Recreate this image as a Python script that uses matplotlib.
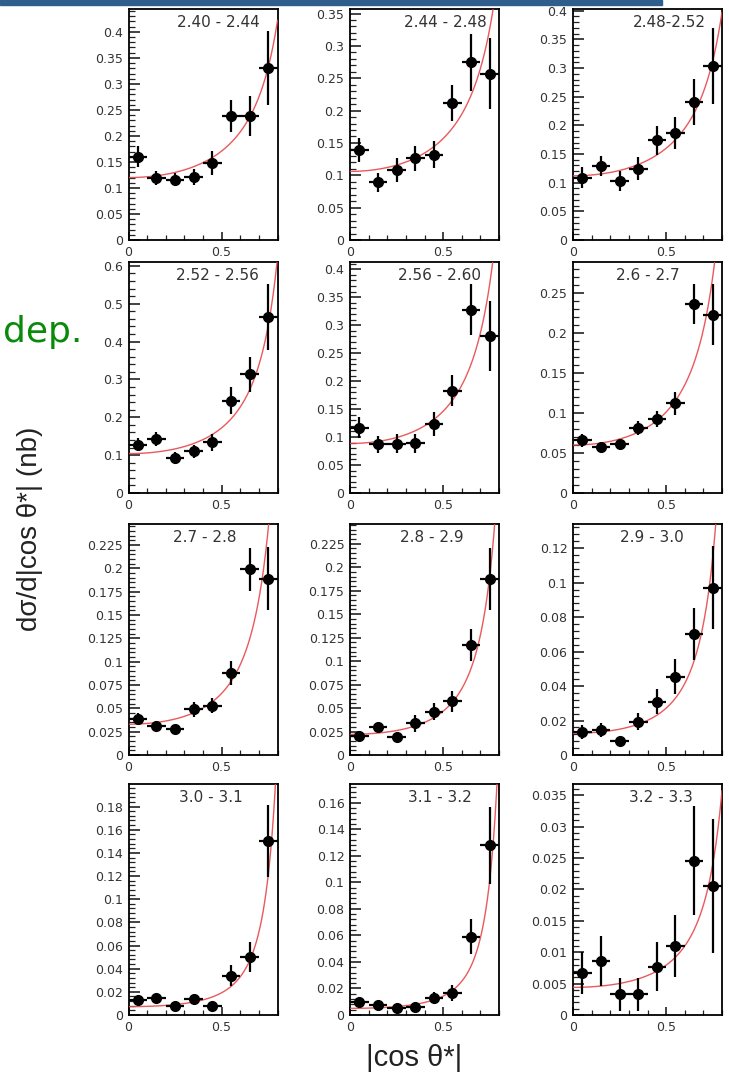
import numpy as np
import matplotlib
matplotlib.use('Agg')
import matplotlib.pyplot as plt
from matplotlib.ticker import MultipleLocator, FormatStrFormatter

# bin centres in |cos theta*| and half widths
x_centres = [0.05, 0.15, 0.25, 0.35, 0.45, 0.55, 0.65, 0.75]
x_half = 0.05

# W ranges (GeV) shown in each panel
w_labels = ['2.40 - 2.44', '2.44 - 2.48', '2.48-2.52',
            '2.52 - 2.56', '2.56 - 2.60', '2.6 - 2.7',
            '2.7 - 2.8', '2.8 - 2.9', '2.9 - 3.0',
            '3.0 - 3.1', '3.1 - 3.2', '3.2 - 3.3']

# measured cross sections (nb) and errors, one list per panel
xsec = [
    [0.160, 0.119, 0.116, 0.121, 0.148, 0.239, 0.238, 0.331],
    [0.139, 0.089, 0.108, 0.126, 0.132, 0.212, 0.275, 0.257],
    [0.109, 0.129, 0.103, 0.124, 0.174, 0.186, 0.241, 0.303],
    [0.128, 0.143, 0.093, 0.110, 0.134, 0.244, 0.313, 0.465],
    [0.117, 0.087, 0.088, 0.089, 0.123, 0.183, 0.328, 0.281],
    [0.066, 0.057, 0.061, 0.081, 0.092, 0.112, 0.236, 0.223],
    [0.0386, 0.031, 0.0275, 0.049, 0.053, 0.0875, 0.199, 0.189],
    [0.020, 0.030, 0.0187, 0.034, 0.046, 0.057, 0.117, 0.187],
    [0.0132, 0.0145, 0.0083, 0.0194, 0.031, 0.0455, 0.070, 0.097],
    [0.013, 0.0145, 0.0081, 0.0139, 0.0081, 0.034, 0.050, 0.150],
    [0.0095, 0.0075, 0.005, 0.0063, 0.013, 0.0168, 0.059, 0.128],
    [0.0067, 0.0086, 0.0033, 0.0033, 0.0077, 0.011, 0.0246, 0.0206],
]
xsec_err = [
    [0.020, 0.013, 0.013, 0.015, 0.023, 0.031, 0.038, 0.071],
    [0.019, 0.015, 0.018, 0.020, 0.021, 0.028, 0.044, 0.055],
    [0.018, 0.018, 0.018, 0.020, 0.025, 0.028, 0.040, 0.066],
    [0.018, 0.018, 0.016, 0.018, 0.022, 0.035, 0.045, 0.087],
    [0.018, 0.015, 0.017, 0.017, 0.021, 0.028, 0.046, 0.063],
    [0.008, 0.006, 0.007, 0.009, 0.010, 0.014, 0.025, 0.038],
    [0.006, 0.005, 0.004, 0.008, 0.008, 0.013, 0.023, 0.034],
    [0.004, 0.005, 0.004, 0.009, 0.009, 0.011, 0.017, 0.033],
    [0.004, 0.004, 0.003, 0.005, 0.007, 0.010, 0.015, 0.024],
    [0.003, 0.003, 0.003, 0.004, 0.003, 0.009, 0.013, 0.031],
    [0.003, 0.002, 0.002, 0.002, 0.004, 0.006, 0.013, 0.029],
    [0.0034, 0.004, 0.0026, 0.0026, 0.0039, 0.005, 0.0087, 0.0107],
]

# fit curve c0 / (1 - x^2)^n, parameters
fit_norm = [0.120, 0.106, 0.112, 0.104, 0.0886, 0.060, 0.033, 0.022, 0.0126, 0.0072, 0.005, 0.0044]
fit_power = [1.23, 1.36, 1.24, 1.75, 1.74, 1.82, 2.41, 2.61, 2.67, 3.41, 3.64, 2.05]

# axis ranges and tick steps
y_max = [0.444, 0.357, 0.403, 0.61, 0.413, 0.289, 0.2475, 0.246, 0.134, 0.1995, 0.174, 0.0368]
y_major = [0.05, 0.05, 0.05, 0.1, 0.05, 0.05, 0.025, 0.025, 0.02, 0.02, 0.02, 0.005]
y_minor = [0.01, 0.01, 0.01, 0.02, 0.01, 0.01, 0.005, 0.005, 0.004, 0.004, 0.004, 0.001]
label_xpos = [0.6, 0.64, 0.65, 0.6, 0.6, 0.5, 0.51, 0.55, 0.53, 0.55, 0.6, 0.59]

W, H = 729, 1073
fig = plt.figure(figsize=(W / 100, H / 100), dpi=100)
plt.rcParams['font.family'] = ['DejaVu Sans']

col_left = [128.5, 350, 573]
row_top = [9, 262, 524, 784]
ax_w, ax_h = 149, 231

xx = np.linspace(0, 0.8, 300)
for i in range(12):
	r, c = divmod(i, 3)
	ax = fig.add_axes([col_left[c] / W, 1 - (row_top[r] + ax_h) / H, ax_w / W, ax_h / H])
	curve = fit_norm[i] / (1 - xx ** 2) ** fit_power[i]
	ax.plot(xx, curve, color='#e8474a', lw=1.0, alpha=0.9, zorder=3)
	ax.errorbar(x_centres, xsec[i], xerr=x_half, yerr=xsec_err[i], fmt='o',
				color='black', ms=7, elinewidth=1.6, capsize=0, zorder=4)
	ax.set_xlim(0, 0.8)
	ax.set_ylim(0, y_max[i])
	ax.xaxis.set_major_locator(MultipleLocator(0.5))
	ax.xaxis.set_minor_locator(MultipleLocator(0.1))
	ax.yaxis.set_major_locator(MultipleLocator(y_major[i]))
	ax.yaxis.set_minor_locator(MultipleLocator(y_minor[i]))
	ax.xaxis.set_major_formatter(FormatStrFormatter('%g'))
	ax.yaxis.set_major_formatter(FormatStrFormatter('%g'))
	ax.tick_params(which='both', direction='in', top=False, right=False,
				   labelsize=9, labelcolor='#333333', color='#222222', pad=4)
	ax.tick_params(axis='y', which='major', length=8, width=1.2)
	ax.tick_params(axis='y', which='minor', length=4, width=0.9)
	ax.tick_params(axis='x', which='major', length=6, width=1.2)
	ax.tick_params(axis='x', which='minor', length=3.5, width=0.9)
	for s in ax.spines.values():
		s.set_linewidth(1.3)
	ax.text(label_xpos[i], 0.94, w_labels[i], transform=ax.transAxes,
			ha='center', va='center', fontsize=11, color='#333333')

# blue band at the top of the slide
fig.patches.append(plt.Rectangle((0, 1 - 5 / H), 662 / W, 5 / H, transform=fig.transFigure,
								 color='#2f5d8c', zorder=0))

fig.text(82 / W, 1 - 342 / H, 'dep.', ha='right', va='baseline', fontsize=26,
		 color='#0a8a0a')
fig.text(30 / W, 1 - 529 / H, 'd\u03c3/d|cos \u03b8*| (nb)', rotation=90,
		 ha='center', va='center', fontsize=20, color='#222222',
		 family=['Liberation Sans', 'DejaVu Sans'])
fig.text(414 / W, 1 - 1058 / H, '|cos \u03b8*|', ha='center', va='center',
		 fontsize=21, color='#222222', family=['Liberation Sans', 'DejaVu Sans'])

fig.savefig('out.png', dpi=100)
